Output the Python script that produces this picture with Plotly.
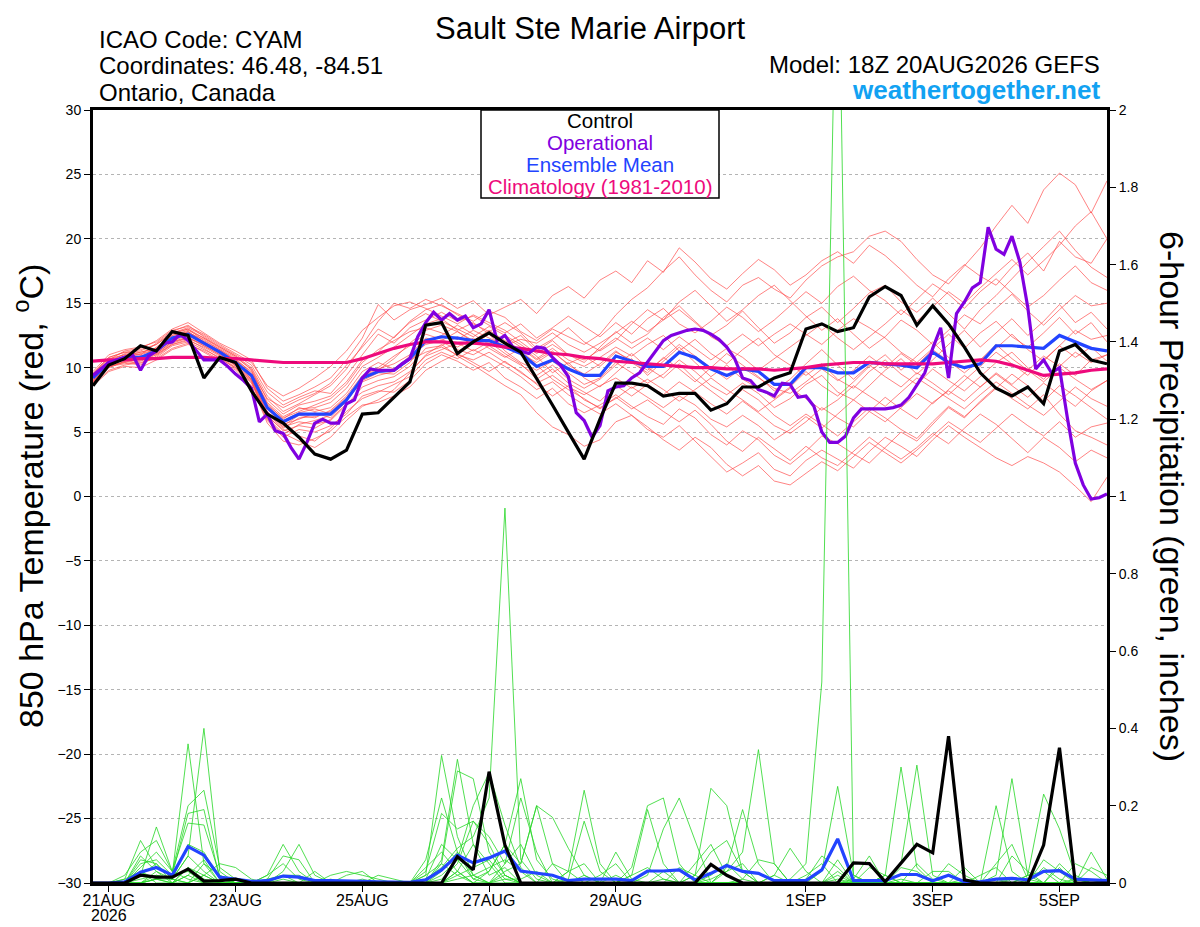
import pandas as pd
import plotly.graph_objects as go

# ---- data ----
run_start = "2026-08-20 18:00"

control_temp = [8.6, 10.2, 10.7, 11.7, 11.3, 12.8, 12.5, 9.2, 10.8, 10.4,
                8.2, 6.4, 5.7, 4.6, 3.3, 2.9, 3.6, 6.4, 6.5, 7.7,
                8.9, 13.3, 13.5, 11.1, 12.0, 12.7, 11.9, 11.2, 9.2, 7.1,
                5.0, 2.9, 6.0, 8.8, 8.8, 8.6, 7.8, 8.0, 8.0, 6.7,
                7.2, 8.5, 8.5, 9.2, 9.6, 13.0, 13.4, 12.8, 13.1, 15.5,
                16.3, 15.6, 13.3, 14.8, 13.4, 11.6, 9.6, 8.4, 7.8, 8.5,
                7.2, 11.3, 11.8, 10.6, 10.3]

mean_temp = [9.2, 10.4, 10.8, 10.8, 11.3, 12.3, 12.6, 11.9, 11.2, 10.4,
             9.4, 6.9, 5.8, 6.4, 6.4, 6.4, 7.5, 9.2, 9.7, 9.8,
             10.7, 12.1, 12.4, 12.3, 12.1, 12.1, 11.6, 11.1, 10.1, 10.6,
             9.9, 9.4, 9.4, 10.9, 10.5, 10.1, 10.1, 11.2, 10.8, 9.9,
             9.4, 9.9, 9.7, 8.7, 8.7, 10.0, 10.0, 9.6, 9.6, 10.4,
             10.3, 10.2, 10.0, 11.2, 10.4, 10.0, 10.3, 11.7, 11.7, 11.6,
             11.5, 12.5, 12.0, 11.5, 11.3]

clim_temp = [10.5, 10.6, 10.6, 10.7, 10.7, 10.8, 10.8, 10.8, 10.7, 10.7,
             10.6, 10.5, 10.4, 10.4, 10.4, 10.4, 10.4, 10.7, 11.1, 11.5,
             11.8, 12.0, 12.0, 11.9, 11.9, 11.8, 11.6, 11.5, 11.3, 11.1,
             11.0, 10.8, 10.7, 10.5, 10.4, 10.3, 10.2, 10.1, 10.0, 10.0,
             9.9, 9.9, 9.9, 9.8, 9.9, 10.0, 10.2, 10.3, 10.4, 10.4,
             10.3, 10.3, 10.3, 10.3, 10.4, 10.5, 10.6, 10.5, 10.2, 9.8,
             9.4, 9.5, 9.6, 9.8, 9.9]

# operational run is 3-hourly
oper_temp = [9.4, 9.9, 10.4, 10.6, 10.8, 11.0, 9.8, 10.9, 11.3, 11.9, 12.0, 12.6, 12.1, 11.3, 10.6,
             10.6, 10.6, 10.1, 9.5, 9.0, 8.4, 5.8, 6.4, 5.1, 4.9, 3.8, 2.9, 4.2, 5.7, 6.0,
             5.7, 5.7, 7.2, 7.5, 9.2, 9.9, 9.8, 9.8, 9.8, 10.3, 10.7, 12.4, 13.5, 14.3, 13.7,
             14.2, 13.7, 14.0, 13.1, 13.4, 14.5, 12.1, 12.5, 11.6, 11.3, 11.1, 11.6, 11.5, 10.8, 10.2,
             9.3, 6.5, 5.9, 4.6, 5.5, 8.2, 8.5, 8.6, 9.2, 9.6, 10.4, 11.3, 12.1, 12.5, 12.7,
             12.9, 13.0, 12.9, 12.6, 12.2, 11.6, 10.7, 9.2, 9.0, 8.3, 8.1, 7.8, 8.8, 8.7, 7.7,
             7.8, 7.0, 5.0, 4.2, 4.2, 4.7, 6.1, 6.8, 6.8, 6.8, 6.8, 6.9, 7.1, 7.7, 8.6,
             9.6, 11.5, 13.1, 9.2, 14.2, 15.1, 16.2, 16.6, 20.9, 19.2, 18.8, 20.2, 18.2, 14.7, 9.9,
             10.6, 9.6, 10.0, 6.1, 2.6, 0.9, -0.2, -0.1, 0.2]

control_precip = [0, 0, 0, 0.02, 0.015, 0.015, 0.036, 0.005, 0.006, 0.01,
                  0, 0, 0, 0, 0, 0, 0, 0, 0, 0,
                  0, 0, 0, 0.068, 0.034, 0.288, 0.098, 0, 0, 0,
                  0, 0, 0, 0, 0, 0, 0, 0, 0, 0.048,
                  0.02, 0, 0, 0, 0, 0, 0, 0, 0.052, 0.05,
                  0.003, 0.052, 0.10, 0.078, 0.38, 0.008, 0, 0, 0, 0,
                  0.098, 0.35, 0, 0, 0]

mean_precip = [0, 0, 0.003, 0.028, 0.04, 0.02, 0.094, 0.072, 0.015, 0.01,
               0.004, 0.006, 0.018, 0.015, 0.006, 0.006, 0.006, 0.004, 0.003, 0.002,
               0.002, 0.008, 0.034, 0.072, 0.052, 0.065, 0.083, 0.031, 0.025, 0.02,
               0.006, 0.01, 0.01, 0.01, 0.006, 0.031, 0.031, 0.034, 0.008, 0.025,
               0.045, 0.03, 0.025, 0.006, 0.006, 0.006, 0.034, 0.114, 0.006, 0.006,
               0.006, 0.022, 0.022, 0.006, 0.02, 0.003, 0.003, 0.01, 0.012, 0.008,
               0.03, 0.032, 0.01, 0.008, 0.006]

# ensemble member 850 hPa temperatures (6-hourly)
t01 = [9.6, 10.8, 11.2, 11.0, 11.9, 12.8, 13.3, 12.4, 11.6, 10.9, 10.0,
       7.8, 6.6, 7.2, 7.9, 8.6, 9.9, 11.8, 13.6, 15.0, 14.6,
       15.3, 14.8, 14.2, 13.6, 14.4, 13.9, 12.8, 12.1, 13.0, 12.4, 11.8, 12.6,
       14.1, 15.3, 16.2, 17.5, 18.6, 17.2, 16.0, 15.1, 16.4, 17.0, 16.1, 15.4,
       16.8, 17.9, 18.6, 19.0, 20.2, 20.6, 19.8, 18.4, 17.2, 16.5, 17.9, 19.3,
       21.0, 22.6, 21.2, 23.8, 25.1, 24.2, 22.0, 24.5]
t02 = [8.9, 10.1, 10.4, 10.2, 10.9, 11.8, 12.2, 11.5, 10.7, 10.0, 8.8,
       6.1, 4.9, 4.3, 3.8, 4.6, 5.9, 7.0, 7.5, 8.3, 9.6,
       11.0, 11.8, 10.9, 10.2, 9.4, 8.6, 7.9, 6.5, 5.4, 4.8, 3.9, 4.4,
       5.8, 6.3, 5.2, 4.6, 5.5, 4.3, 3.1, 1.9, 2.6, 3.4, 2.1, 1.6,
       2.8, 3.6, 2.9, 2.2, 3.5, 4.6, 3.9, 3.1, 4.4, 5.5, 4.6, 3.8,
       3.0, 2.4, 3.1, 2.6, 1.9, 0.8, -0.4, 1.5]
t03 = [9.4, 10.6, 11.3, 11.5, 12.1, 13.0, 13.5, 12.7, 11.9, 11.3, 10.6,
       8.4, 7.4, 7.9, 8.5, 9.2, 10.6, 12.3, 14.9, 13.7, 14.5,
       14.9, 15.4, 14.6, 15.2, 14.1, 14.7, 15.3, 14.2, 15.6, 16.3, 15.4, 16.8,
       17.5, 16.6, 18.3, 17.4, 19.3, 18.2, 16.9, 16.1, 17.3, 18.4, 17.6, 16.4,
       17.2, 18.3, 19.0, 18.1, 19.5, 18.7, 17.6, 16.4, 15.5, 16.9, 18.0, 17.1,
       16.4, 17.8, 18.9, 17.5, 19.8, 18.6, 18.1, 20.0]
t04 = [8.7, 9.8, 10.2, 10.4, 10.7, 11.5, 11.9, 11.2, 10.5, 9.6, 8.5,
       5.9, 4.6, 5.2, 5.0, 5.5, 6.4, 7.8, 8.2, 8.1, 9.0,
       10.3, 11.0, 10.5, 9.8, 10.4, 9.2, 8.5, 7.6, 8.4, 7.2, 6.5, 7.1,
       7.9, 7.0, 6.2, 5.6, 6.8, 6.1, 4.8, 4.0, 5.1, 4.4, 3.2, 2.5,
       3.5, 4.7, 4.1, 3.3, 2.6, 3.8, 5.0, 4.3, 5.6, 6.9, 6.1, 7.4,
       8.5, 7.6, 6.8, 7.9, 6.4, 5.1, 4.6, 4.0]
t05 = [9.1, 10.3, 10.9, 11.2, 11.5, 12.6, 13.0, 12.1, 11.4, 10.7, 9.6,
       7.3, 6.2, 6.8, 6.9, 7.3, 8.4, 10.1, 10.8, 11.6, 12.5,
       13.4, 13.8, 12.9, 13.5, 12.6, 11.9, 12.5, 11.3, 12.1, 11.0, 10.4, 11.6,
       12.8, 11.9, 12.6, 13.9, 14.8, 13.6, 12.5, 13.3, 14.4, 13.1, 11.9, 12.7,
       13.9, 14.7, 13.5, 14.6, 15.8, 16.4, 15.1, 14.3, 15.4, 14.2, 13.0, 14.5,
       15.6, 16.9, 18.2, 19.4, 20.6, 19.1, 17.8, 17.0]
t06 = [9.3, 10.5, 10.6, 10.9, 11.1, 12.0, 12.4, 11.7, 11.0, 10.2, 9.1,
       6.5, 5.4, 5.8, 5.6, 5.9, 7.1, 8.5, 9.0, 9.3, 10.1,
       11.5, 11.7, 12.4, 11.8, 12.6, 11.3, 10.4, 9.8, 10.5, 9.6, 8.7, 9.2,
       10.4, 9.6, 8.8, 9.5, 10.6, 9.7, 8.6, 7.9, 8.8, 8.0, 6.9, 7.6,
       8.7, 9.4, 8.1, 7.5, 8.6, 9.8, 10.7, 9.5, 10.6, 11.8, 12.9, 11.6,
       12.7, 13.8, 12.5, 13.6, 14.9, 13.5, 14.3, 13.0]
t07 = [9.0, 10.2, 10.7, 10.6, 11.3, 12.2, 12.8, 12.0, 11.3, 10.5, 9.3,
       6.8, 5.6, 6.0, 6.5, 6.1, 7.4, 9.0, 9.6, 9.5, 10.4,
       12.0, 12.5, 13.3, 12.6, 11.8, 12.4, 11.6, 10.7, 11.5, 10.6, 10.1, 10.8,
       11.6, 10.9, 11.8, 12.5, 11.3, 12.2, 11.1, 10.3, 11.4, 12.3, 11.0, 10.2,
       9.4, 10.3, 9.1, 8.4, 9.7, 10.6, 9.5, 8.7, 9.9, 9.0, 8.2, 9.3,
       10.4, 11.2, 10.0, 9.1, 10.3, 9.4, 10.6, 11.0]
t08 = [9.5, 10.7, 11.0, 10.7, 11.6, 12.5, 12.9, 12.3, 11.5, 10.8, 9.9,
       7.5, 6.4, 7.1, 7.4, 7.8, 8.9, 10.6, 11.2, 12.4, 13.5,
       14.2, 13.6, 13.0, 12.4, 13.2, 12.5, 11.8, 10.9, 9.6, 10.4, 9.2, 8.5,
       9.6, 10.7, 9.4, 10.5, 11.6, 10.4, 9.3, 10.2, 9.1, 8.4, 7.6, 8.5,
       9.7, 8.6, 7.8, 8.9, 10.1, 11.0, 9.8, 10.9, 12.0, 10.8, 9.9, 10.6,
       11.5, 12.6, 11.4, 10.5, 11.7, 12.9, 12.2, 12.5]
t09 = [8.8, 10.0, 10.5, 10.9, 11.0, 11.9, 12.3, 11.8, 11.1, 10.1, 9.0,
       6.3, 5.1, 5.5, 5.3, 6.0, 7.2, 8.1, 8.6, 8.9, 9.7,
       10.9, 11.4, 11.9, 11.3, 12.0, 11.1, 10.3, 9.1, 9.9, 8.8, 8.1, 7.4,
       8.6, 7.8, 8.7, 7.9, 8.9, 8.1, 7.2, 6.4, 7.4, 6.5, 5.5, 4.9,
       5.8, 6.9, 6.1, 5.4, 6.6, 7.7, 6.8, 6.0, 7.3, 8.2, 7.4, 8.5,
       9.6, 8.7, 9.8, 8.9, 10.0, 9.1, 8.3, 9.0]
t10 = [9.2, 10.4, 11.1, 11.3, 11.8, 12.7, 13.1, 12.5, 11.7, 11.0, 10.2,
       8.1, 7.1, 7.7, 8.2, 8.0, 9.4, 11.0, 12.6, 11.9, 13.1,
       13.7, 14.3, 13.6, 14.0, 13.3, 12.7, 13.4, 12.3, 13.1, 14.0, 13.2, 12.4,
       13.5, 12.6, 13.8, 14.6, 13.4, 12.7, 13.6, 14.7, 13.9, 12.8, 13.7, 14.8,
       15.9, 15.0, 16.3, 17.1, 16.0, 15.2, 14.1, 15.3, 16.5, 15.7, 14.6, 15.9,
       16.9, 15.8, 14.7, 15.6, 16.8, 17.9, 16.6, 16.0]
t11 = [9.0, 10.1, 10.3, 10.5, 11.0, 11.8, 12.1, 11.6, 10.9, 10.0, 9.0,
       6.0, 4.8, 5.6, 5.9, 6.3, 7.5, 9.3, 9.9, 10.3, 11.0,
       12.3, 12.0, 11.4, 11.0, 11.7, 10.9, 10.2, 9.4, 10.2, 9.1, 8.4, 9.1,
       10.2, 11.1, 10.0, 9.2, 10.3, 9.1, 8.2, 7.3, 8.3, 7.5, 6.3, 5.5,
       6.4, 5.6, 4.7, 5.8, 6.9, 6.1, 5.2, 4.5, 5.8, 7.0, 6.2, 7.3,
       8.4, 9.5, 8.6, 7.4, 8.6, 7.8, 6.9, 6.0]
t12 = [9.3, 10.5, 10.8, 11.1, 11.4, 12.4, 12.7, 12.2, 11.4, 10.6, 9.7,
       7.6, 6.9, 7.5, 8.0, 8.8, 10.2, 11.6, 13.0, 12.3, 13.6,
       14.5, 14.9, 14.1, 13.4, 12.8, 13.5, 12.7, 11.5, 12.2, 13.1, 12.0, 11.3,
       12.1, 13.4, 14.5, 13.7, 15.1, 16.0, 14.8, 13.6, 14.5, 15.6, 16.4, 15.2,
       14.0, 12.9, 13.8, 12.6, 11.5, 12.4, 13.7, 12.9, 11.8, 12.9, 14.1, 13.4,
       14.6, 15.7, 14.4, 13.3, 14.5, 15.6, 14.8, 15.0]
t13 = [9.1, 10.3, 10.6, 10.3, 11.2, 12.1, 12.5, 11.9, 11.2, 10.3, 9.2,
       6.6, 5.5, 6.3, 6.1, 6.7, 7.8, 9.4, 10.0, 10.9, 11.7,
       12.6, 12.2, 11.6, 12.3, 11.5, 10.8, 11.5, 10.6, 11.3, 10.2, 9.5, 10.3,
       11.3, 10.4, 9.6, 10.8, 9.9, 8.9, 10.0, 11.1, 10.2, 9.3, 8.2, 9.1,
       10.3, 11.4, 10.2, 9.1, 10.2, 9.3, 8.5, 9.6, 8.8, 7.9, 9.0, 10.1,
       11.2, 10.3, 9.4, 10.6, 11.7, 10.8, 11.6, 10.5]
t14 = [9.4, 10.6, 11.0, 11.2, 11.5, 12.5, 12.8, 12.0, 11.3, 10.6, 9.5,
       7.0, 5.9, 6.5, 6.8, 6.4, 7.6, 9.1, 9.8, 10.7, 11.9,
       12.9, 13.3, 12.8, 12.1, 12.9, 12.1, 11.4, 10.2, 9.1, 8.3, 7.6, 6.8,
       7.7, 6.8, 7.5, 6.6, 5.8, 6.7, 5.6, 4.3, 3.5, 4.6, 3.7, 2.8,
       3.9, 3.0, 2.4, 3.5, 4.6, 3.7, 2.9, 3.8, 4.9, 4.1, 5.3, 6.4,
       5.6, 4.5, 3.4, 4.6, 3.8, 2.7, 3.6, 3.0]
t15 = [8.6, 9.7, 10.1, 10.0, 10.6, 11.4, 11.8, 11.3, 10.6, 9.8, 8.6,
       5.7, 4.3, 4.0, 4.5, 5.1, 6.2, 7.1, 7.3, 7.8, 8.5,
       9.8, 10.5, 11.1, 10.4, 9.7, 10.5, 9.6, 8.8, 9.4, 8.5, 7.9, 8.6,
       9.2, 8.4, 9.1, 8.3, 7.4, 8.3, 9.2, 8.3, 7.5, 6.6, 7.5, 8.4,
       7.6, 6.7, 7.5, 8.6, 7.8, 7.0, 8.1, 9.2, 8.4, 7.6, 6.8, 7.9,
       8.9, 8.0, 7.1, 6.3, 7.4, 8.5, 7.6, 7.0]
t16 = [9.7, 11.0, 11.4, 11.6, 12.0, 12.9, 13.2, 12.6, 11.8, 11.1, 10.4,
       8.6, 7.8, 8.4, 9.2, 10.1, 11.3, 12.9, 13.9, 14.8, 15.1,
       14.6, 14.0, 13.4, 14.1, 13.5, 12.9, 12.0, 11.1, 11.8, 11.0, 10.6, 11.4,
       12.3, 11.5, 12.3, 11.4, 12.4, 11.5, 10.6, 11.5, 10.8, 9.8, 10.7, 11.6,
       12.5, 13.4, 12.3, 11.4, 12.4, 13.4, 14.5, 13.6, 14.7, 15.9, 15.0, 16.2,
       17.3, 18.4, 17.2, 18.3, 19.5, 21.0, 22.1, 20.0]
t17 = [8.9, 10.0, 10.5, 10.6, 10.8, 11.7, 12.0, 11.4, 10.8, 9.9, 8.9,
       6.2, 5.2, 4.7, 4.3, 5.3, 6.6, 7.6, 8.1, 8.7, 9.3,
       10.6, 11.2, 10.7, 11.4, 10.8, 10.1, 9.3, 8.3, 8.9, 7.9, 7.1, 6.4,
       7.2, 6.3, 5.4, 4.4, 3.6, 4.6, 3.8, 2.5, 1.6, 2.4, 1.2, 0.9,
       1.8, 2.7, 2.0, 3.1, 4.2, 3.4, 2.6, 3.6, 4.7, 5.8, 5.0, 4.2,
       5.3, 6.4, 5.5, 4.7, 5.8, 4.6, 5.4, 5.7]
t18 = [9.5, 10.8, 11.2, 11.4, 11.8, 12.7, 13.0, 12.3, 11.6, 10.9, 9.8,
       7.1, 6.1, 6.6, 7.1, 7.6, 8.7, 10.4, 11.4, 12.1, 12.8,
       13.1, 12.7, 12.2, 12.9, 12.3, 11.7, 12.2, 11.9, 12.7, 11.8, 11.2, 11.9,
       12.7, 13.6, 12.8, 13.7, 14.5, 13.5, 12.4, 11.7, 12.6, 11.7, 12.6, 13.4,
       12.6, 11.8, 12.9, 13.8, 13.1, 12.3, 11.2, 10.4, 11.5, 12.6, 11.5, 12.7,
       13.6, 12.4, 11.6, 12.7, 13.9, 12.6, 13.5, 12.0]
t19 = [9.2, 10.4, 10.9, 11.0, 11.4, 12.3, 12.6, 11.9, 11.2, 10.4, 9.4,
       7.2, 6.0, 6.9, 6.6, 6.9, 8.0, 9.7, 10.4, 9.9, 10.9,
       11.8, 12.1, 12.8, 12.0, 12.7, 11.9, 11.1, 10.4, 11.2, 10.3, 10.9, 10.1,
       11.2, 10.6, 9.8, 10.7, 11.8, 10.9, 10.0, 9.1, 10.0, 9.2, 8.4, 8.0,
       8.9, 9.9, 9.0, 9.8, 10.9, 10.0, 11.1, 10.2, 11.4, 10.5, 9.6, 10.6,
       11.8, 10.7, 9.8, 10.9, 10.1, 11.2, 10.4, 11.0]
t20 = [9.0, 10.2, 10.4, 10.8, 11.1, 12.0, 12.3, 11.7, 11.0, 10.2, 9.1,
       6.4, 5.3, 6.1, 6.2, 6.6, 7.7, 8.9, 9.4, 9.7, 10.6,
       11.2, 11.6, 11.0, 10.6, 11.2, 10.4, 9.7, 8.7, 7.8, 8.6, 7.5, 6.9,
       7.6, 8.5, 7.7, 6.9, 7.8, 7.1, 6.0, 5.4, 6.3, 5.5, 4.4, 5.2,
       6.2, 5.3, 6.4, 7.5, 6.6, 5.8, 6.9, 8.0, 7.2, 8.3, 9.4, 8.5,
       9.5, 8.6, 7.7, 8.8, 7.9, 7.0, 8.2, 9.0]

# ensemble member 6-hour precipitation (inches)
p01 = [0, 0, 0, 0, 0.01, 0.01, 0.07, 0.40, 0.03, 0, 0, 0, 0.01, 0, 0, 0, 0, 0, 0, 0, 0,
       0.01, 0.04, 0.09, 0.12, 0.22, 0.97, 0.06, 0.01, 0, 0, 0.02, 0, 0, 0, 0, 0.01,
       0, 0, 0.02, 0.05, 0.01, 0, 0, 0, 0, 0, 0.01, 0, 0, 0.02, 0.30, 0.04,
       0, 0, 0, 0, 0, 0.01, 0, 0, 0, 0, 0, 0]
p02 = [0, 0, 0, 0.02, 0.145, 0.03, 0.01, 0, 0, 0, 0, 0.01, 0.02, 0, 0, 0, 0, 0, 0, 0, 0,
       0, 0.06, 0.32, 0.10, 0.02, 0.04, 0, 0, 0, 0, 0, 0, 0.02, 0, 0, 0,
       0, 0, 0, 0, 0, 0, 0, 0.01, 0.05, 0.52, 2.6, 0.02, 0, 0, 0, 0,
       0, 0, 0.01, 0, 0.20, 0.03, 0, 0, 0, 0.01, 0, 0]
p03 = [0, 0, 0.01, 0.11, 0.04, 0.02, 0.36, 0.05, 0, 0, 0, 0, 0, 0, 0, 0.01, 0, 0, 0, 0, 0,
       0.02, 0.33, 0.12, 0.02, 0, 0.03, 0.05, 0.20, 0.05, 0, 0, 0, 0, 0, 0, 0,
       0, 0, 0.01, 0.03, 0.08, 0.345, 0.05, 0, 0, 0, 0, 0, 0, 0, 0.01, 0,
       0, 0, 0, 0, 0.02, 0.27, 0.02, 0, 0, 0, 0, 0]
p04 = [0, 0, 0.02, 0.08, 0.11, 0.03, 0.20, 0.24, 0.04, 0.01, 0, 0.02, 0.10, 0.03, 0, 0, 0, 0, 0, 0, 0,
       0, 0.05, 0.29, 0.27, 0.08, 0.02, 0, 0, 0, 0, 0, 0, 0, 0.04, 0.20, 0.22,
       0.05, 0, 0, 0, 0, 0, 0, 0, 0, 0, 0.02, 0, 0, 0, 0.05, 0.305,
       0.02, 0, 0, 0, 0, 0, 0, 0, 0, 0, 0, 0]
p05 = [0, 0, 0, 0.05, 0.06, 0.02, 0.18, 0.19, 0.01, 0, 0, 0, 0.03, 0.10, 0.02, 0, 0, 0, 0, 0, 0,
       0.06, 0.22, 0.08, 0.01, 0.03, 0.10, 0.27, 0.06, 0.01, 0, 0, 0, 0, 0, 0, 0,
       0, 0.02, 0.245, 0.20, 0.03, 0, 0, 0, 0, 0, 0.03, 0, 0, 0, 0, 0,
       0, 0, 0, 0, 0, 0, 0.02, 0.23, 0.14, 0.02, 0, 0]
p06 = [0, 0, 0, 0.04, 0.08, 0.03, 0.155, 0.15, 0.02, 0, 0, 0.01, 0.07, 0.06, 0, 0, 0.02, 0.03, 0, 0, 0,
       0, 0.02, 0.06, 0.20, 0.285, 0.15, 0.04, 0, 0, 0.03, 0.24, 0.05, 0, 0, 0, 0,
       0, 0, 0, 0, 0, 0, 0, 0, 0, 0.03, 0.25, 0.02, 0, 0, 0, 0,
       0, 0, 0, 0, 0, 0, 0, 0, 0, 0, 0.08, 0.01]
p07 = [0, 0, 0, 0.07, 0.03, 0, 0.02, 0.06, 0, 0, 0, 0, 0, 0, 0, 0, 0, 0, 0, 0, 0,
       0.03, 0.18, 0.14, 0.16, 0.12, 0.05, 0.22, 0.08, 0, 0, 0, 0, 0, 0, 0.02, 0.14,
       0.22, 0.11, 0, 0, 0, 0, 0, 0, 0, 0, 0, 0.01, 0.07, 0, 0, 0,
       0, 0, 0, 0, 0, 0, 0, 0, 0.04, 0, 0, 0]
p08 = [0, 0, 0, 0, 0.02, 0.01, 0.07, 0.03, 0, 0, 0, 0, 0, 0, 0, 0.02, 0.03, 0.02, 0.01, 0, 0,
       0.02, 0.05, 0.02, 0, 0.03, 0.10, 0.05, 0.20, 0.17, 0.09, 0.02, 0, 0, 0, 0, 0,
       0, 0, 0, 0.04, 0.19, 0.05, 0, 0, 0, 0, 0, 0, 0, 0, 0, 0,
       0, 0, 0, 0, 0.05, 0.10, 0.01, 0, 0, 0, 0, 0]
p09 = [0, 0, 0, 0.02, 0.05, 0.01, 0, 0.02, 0.05, 0.04, 0.01, 0, 0, 0, 0, 0, 0, 0, 0, 0, 0,
       0, 0.01, 0.05, 0.16, 0.10, 0.02, 0, 0, 0.05, 0.03, 0, 0, 0.08, 0.01, 0, 0,
       0, 0, 0, 0, 0, 0, 0.02, 0.09, 0.03, 0, 0, 0, 0, 0, 0, 0,
       0, 0.05, 0.02, 0, 0, 0, 0, 0.04, 0.01, 0, 0, 0]
p10 = [0, 0, 0, 0.03, 0.01, 0, 0.04, 0.02, 0, 0, 0, 0.02, 0.05, 0.01, 0, 0, 0, 0, 0, 0, 0,
       0.01, 0.10, 0.06, 0.01, 0, 0.05, 0.10, 0.02, 0, 0.01, 0.16, 0.03, 0, 0.02, 0.19, 0.05,
       0, 0, 0, 0, 0, 0, 0, 0, 0.01, 0.07, 0.04, 0, 0, 0, 0, 0,
       0.03, 0.03, 0, 0, 0, 0, 0, 0, 0, 0.05, 0.03, 0]
p11 = [0, 0, 0, 0, 0.01, 0.02, 0.03, 0, 0, 0, 0, 0, 0, 0, 0.03, 0, 0, 0, 0, 0, 0,
       0, 0, 0.02, 0.04, 0.06, 0.01, 0, 0, 0, 0, 0, 0, 0, 0, 0, 0,
       0, 0.02, 0.08, 0.11, 0.03, 0, 0, 0, 0, 0, 0, 0, 0, 0, 0.04, 0.03,
       0, 0, 0, 0, 0, 0.07, 0.03, 0, 0, 0, 0, 0]
p12 = [0, 0, 0.01, 0.03, 0, 0, 0.04, 0.01, 0, 0, 0, 0, 0, 0, 0, 0, 0, 0, 0.02, 0.01, 0,
       0, 0.03, 0.08, 0.02, 0, 0, 0, 0, 0, 0.03, 0.05, 0, 0, 0, 0, 0,
       0, 0, 0, 0, 0.01, 0.06, 0.05, 0, 0, 0, 0, 0, 0.04, 0.02, 0, 0,
       0, 0, 0, 0.02, 0.04, 0, 0, 0, 0.05, 0.01, 0, 0]
p13 = [0, 0, 0, 0, 0.03, 0.01, 0, 0.02, 0, 0, 0, 0, 0, 0, 0, 0, 0, 0, 0, 0, 0,
       0, 0, 0.01, 0.02, 0.04, 0.06, 0.03, 0, 0, 0, 0, 0, 0, 0.02, 0.04, 0.01,
       0, 0.05, 0.10, 0.02, 0, 0, 0, 0, 0, 0, 0.06, 0, 0, 0, 0, 0,
       0, 0, 0.04, 0, 0, 0, 0, 0, 0, 0, 0.04, 0.02]
p14 = [0, 0, 0, 0.06, 0.05, 0, 0, 0.05, 0.02, 0, 0, 0, 0.02, 0.02, 0, 0, 0, 0, 0, 0, 0,
       0, 0, 0.03, 0.10, 0.05, 0, 0, 0, 0, 0, 0, 0.02, 0.05, 0, 0, 0,
       0, 0, 0, 0.03, 0.05, 0, 0, 0, 0, 0, 0, 0, 0, 0, 0, 0.05,
       0.01, 0, 0, 0, 0, 0, 0, 0.06, 0.03, 0, 0, 0]
p15 = [0, 0, 0, 0.01, 0.02, 0.01, 0.10, 0.08, 0.01, 0, 0, 0, 0, 0, 0, 0, 0, 0, 0, 0, 0,
       0.04, 0.08, 0.03, 0, 0, 0.01, 0.01, 0.03, 0, 0, 0, 0, 0, 0, 0, 0,
       0.04, 0.02, 0, 0, 0, 0, 0, 0, 0.02, 0.05, 0, 0, 0, 0, 0, 0,
       0, 0, 0, 0, 0, 0, 0.02, 0.03, 0, 0, 0, 0]
p16 = [0, 0, 0, 0, 0.01, 0, 0.02, 0, 0, 0, 0, 0, 0, 0, 0, 0, 0, 0.01, 0, 0, 0,
       0, 0, 0.03, 0, 0, 0.02, 0, 0, 0, 0, 0, 0, 0, 0, 0, 0.03,
       0, 0, 0, 0, 0, 0, 0.02, 0, 0, 0, 0, 0, 0, 0.02, 0, 0,
       0, 0, 0, 0, 0.01, 0, 0, 0, 0, 0, 0, 0.01]

temp_members = [t01, t02, t03, t04, t05, t06, t07, t08, t09, t10,
                t11, t12, t13, t14, t15, t16, t17, t18, t19, t20]
precip_members = [p01, p02, p03, p04, p05, p06, p07, p08,
                  p09, p10, p11, p12, p13, p14, p15, p16]

tick_dates = ["2026-08-21", "2026-08-23", "2026-08-25", "2026-08-27",
              "2026-08-29", "2026-09-01", "2026-09-03", "2026-09-05"]
tick_labels = ["21AUG", "23AUG", "25AUG", "27AUG",
               "29AUG", "1SEP", "3SEP", "5SEP"]
year_label = "2026"
temp_ticks = [-30, -25, -20, -15, -10, -5, 0, 5, 10, 15, 20, 25, 30]
precip_ticks = [0, 0.2, 0.4, 0.6, 0.8, 1.0, 1.2, 1.4, 1.6, 1.8, 2.0]
precip_labels = ["0", "0.2", "0.4", "0.6", "0.8", "1", "1.2", "1.4", "1.6", "1.8", "2"]

# ---- figure ----
times6 = pd.date_range(run_start, periods=len(control_temp), freq="6h")
times3 = pd.date_range(run_start, periods=len(oper_temp), freq="3h")

# the page body adds an 8px margin, so the figure is shifted by OFF
OFF = 8
W, H = 1200 - OFF, 927 - OFF
PLOT_L, PLOT_R, PLOT_T, PLOT_B = 93, 1107, 110, 883   # wanted, in window pixels
L, T = PLOT_L - OFF, PLOT_T - OFF
R, B = W - (PLOT_R - OFF), H - (PLOT_B - OFF)
FONT = "Liberation Sans, Arial, Helvetica, sans-serif"


def fx(px):
    return (px - PLOT_L) / (PLOT_R - PLOT_L)


def fy(py):
    return (PLOT_B - py) / (PLOT_B - PLOT_T)


fig = go.Figure()

for m in temp_members:
    fig.add_scatter(x=times6, y=m, mode="lines", yaxis="y",
                    line=dict(color="rgba(255,70,70,0.75)", width=0.9), hoverinfo="skip")

fig.add_scatter(x=times6, y=mean_temp, mode="lines", line=dict(color="#2244ff", width=3.2))
fig.add_scatter(x=times6, y=clim_temp, mode="lines", line=dict(color="#ee0a7c", width=3.2))
fig.add_scatter(x=times3, y=oper_temp, mode="lines", line=dict(color="#8000e0", width=3.2))
fig.add_scatter(x=times6, y=control_temp, mode="lines", line=dict(color="black", width=3.2))

for m in precip_members:
    fig.add_scatter(x=times6, y=m, mode="lines", yaxis="y2",
                    line=dict(color="rgba(40,215,40,0.9)", width=0.9), hoverinfo="skip")

fig.add_scatter(x=times6, y=mean_precip, mode="lines", yaxis="y2",
                line=dict(color="#2244ff", width=3.2))
fig.add_scatter(x=times6, y=control_precip, mode="lines", yaxis="y2",
                line=dict(color="black", width=3.2))

fig.update_layout(
    width=W, height=H,
    margin=dict(l=L, r=R, t=T, b=B, pad=0),
    paper_bgcolor="white", plot_bgcolor="white",
    showlegend=False,
    font=dict(family=FONT, color="black"),
    xaxis=dict(type="date", range=[times6[0], times6[-1]],
               tickvals=tick_dates, ticktext=tick_labels,
               ticks="outside", ticklen=6, tickwidth=1, tickcolor="black",
               ticklabelstandoff=-5,
               tickfont=dict(size=16), showgrid=False, zeroline=False,
               showline=True, linewidth=3, linecolor="black", mirror=True,
               automargin=False),
    yaxis=dict(range=[-30, 30], tickvals=temp_ticks,
               ticks="outside", ticklen=6, tickwidth=1, tickcolor="black",
               tickfont=dict(size=14), showgrid=True, gridcolor="#b4b4b4",
               griddash="dot", gridwidth=1, zeroline=False,
               showline=True, linewidth=3, linecolor="black",
               automargin=False),
    yaxis2=dict(range=[0, 2], overlaying="y", side="right",
                tickvals=precip_ticks, ticktext=precip_labels,
                ticks="outside", ticklen=6, tickwidth=1, tickcolor="black",
                tickfont=dict(size=14), showgrid=False, zeroline=False,
                showline=True, linewidth=3, linecolor="black",
                automargin=False),
)

# legend box
fig.add_shape(type="rect", xref="paper", yref="paper",
              x0=fx(481), x1=fx(719), y0=fy(198), y1=fy(110),
              line=dict(color="black", width=1.5), fillcolor="white", layer="above")

# title sits flush with the top of the figure
fig.add_annotation(x=fx(590), y=fy(OFF + 1), xref="paper", yref="paper",
                   text="Sault Ste Marie Airport", showarrow=False,
                   xanchor="center", yanchor="top",
                   font=dict(size=31, color="black", family=FONT))

notes = [
    ("ICAO Code: CYAM", 97, 40, "left", 24, "black", False),
    ("Coordinates: 46.48, -84.51", 97, 66, "left", 24, "black", False),
    ("Ontario, Canada", 97, 93, "left", 24, "black", False),
    ("Model: 18Z 20AUG2026 GEFS", 1102, 64, "right", 24, "black", False),
    ("weathertogether.net", 1102, 90, "right", 26, "#12a2f2", True),
    ("Control", 600, 121, "center", 20.5, "black", False),
    ("Operational", 600, 142, "center", 20.5, "#8000e0", False),
    ("Ensemble Mean", 600, 164, "center", 20.5, "#2244ff", False),
    ("Climatology (1981-2010)", 600, 186, "center", 20.5, "#ee0a7c", False),
    (year_label, 109, 915, "center", 16, "black", False),
]
for text, px, py, anchor, size, color, bold in notes:
    fig.add_annotation(x=fx(px), y=fy(py), xref="paper", yref="paper",
                       text=f"<b>{text}</b>" if bold else text, showarrow=False,
                       xanchor=anchor, yanchor="middle",
                       font=dict(size=size, color=color, family=FONT))

fig.add_annotation(x=fx(28), y=fy(496), xref="paper", yref="paper",
                   text="850 hPa Temperature (red, <sup>o</sup>C)", textangle=-90,
                   showarrow=False, xanchor="center", yanchor="middle",
                   font=dict(size=34, color="black", family=FONT))
fig.add_annotation(x=fx(1172), y=fy(496), xref="paper", yref="paper",
                   text="6-hour Precipitation (green, inches)", textangle=90,
                   showarrow=False, xanchor="center", yanchor="middle",
                   font=dict(size=34, color="black", family=FONT))

fig.write_html("out.html")
